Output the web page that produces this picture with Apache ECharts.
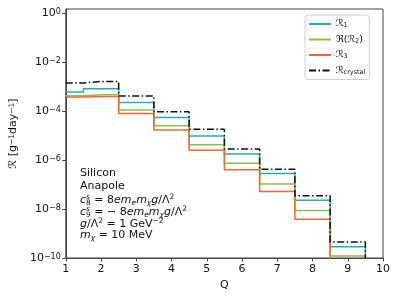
<!DOCTYPE html>
<html><head><meta charset="utf-8">
<script src="https://cdn.jsdelivr.net/npm/echarts@6/dist/echarts.min.js"></script>
<style>html,body{margin:0;padding:0;background:#fff}#c{width:399px;height:299px}</style>
</head><body><div id="c"></div>
<script>
const Q = [1, 2, 3, 4, 5, 6, 7, 8, 9, 10];
const R1 = [6.0e-4, 8.1e-4, 2.2e-4, 5.4e-5, 9.6e-6, 1.74e-6, 2.8e-7, 2.3e-8, 2.9e-10, 1e-12];
const R2 = [4.2e-4, 4.6e-4, 1.1e-4, 2.5e-5, 4.2e-6, 7.4e-7, 1.05e-7, 8.7e-9, 1.2e-10, 1e-12];
const R3 = [3.7e-4, 3.9e-4, 7.9e-5, 1.66e-5, 2.5e-6, 4.0e-7, 5.2e-8, 3.8e-9, 5e-11, 1e-12];
const RC = [1.4e-3, 1.6e-3, 4.1e-4, 9.3e-5, 1.78e-5, 2.8e-6, 4.2e-7, 3.5e-8, 4.5e-10, 1e-12];
const xTicks = [1, 2, 3, 4, 5, 6, 7, 8, 9, 10];
const yTickExps = [-10, -8, -6, -4, -2, 0];
const seriesNames = ['R1', 'R2', 'R3', 'RC'];
const legendLabels = {R1: 'ℛ{sb|1}', R2: 'ℜ(ℛ{sb|2})', R3: 'ℛ{sb|3}', RC: 'ℛ{sb|crystal}'};

const FONT = 'DejaVu Sans';
const chart = echarts.init(document.getElementById('c'), null, {renderer: 'canvas'});
const mk = (name, arr, color, type) => ({
  name: name, type: 'line', step: 'middle', symbol: 'none', clip: true,
  data: Q.map((q, i) => [q, arr[i]]),
  lineStyle: {color: color, width: 1.5, type: type || 'solid'},
  itemStyle: {color: color}
});
const annRich = {
  i: {fontFamily: FONT, fontSize: 11, fontStyle: 'italic', color: '#111', lineHeight: 14},
  n: {fontFamily: FONT, fontSize: 11, color: '#111', lineHeight: 14},
  sp: {fontFamily: FONT, fontSize: 7.5, color: '#111', verticalAlign: 'top', lineHeight: 10},
  spi: {fontFamily: FONT, fontSize: 7.5, fontStyle: 'italic', color: '#111', verticalAlign: 'top', lineHeight: 10, width: 0},
  sb: {fontFamily: FONT, fontSize: 7.5, color: '#111', verticalAlign: 'bottom', lineHeight: 9},
  sbi: {fontFamily: FONT, fontSize: 7.5, fontStyle: 'italic', color: '#111', verticalAlign: 'bottom', lineHeight: 9}
};
const annLines = [
  '{n|Silicon}',
  '{n|Anapole}',
  '{i|c}{spi|s}{sb|8}{n| = 8}{i|em}{sbi|e}{i|m}{sbi|χ}{i|g}{n|/Λ}{sp|2}',
  '{i|c}{spi|s}{sb|9}{n| = − 8}{i|em}{sbi|e}{i|m}{sbi|χ}{i|g}{n|/Λ}{sp|2}',
  '{i|g}{n|/Λ}{sp|2}{n| = 1 GeV}{sp|−2}',
  '{i|m}{sbi|χ}{n| = 10 MeV}'
];
const annY = [175, 187.5, 200, 212.5, 224.5, 236.5];
const graphics = annLines.map((t, k) => ({
  type: 'text', left: 80, top: annY[k] - 7,
  style: {text: t, rich: annRich, fontFamily: FONT, fontSize: 11, fill: '#111'}
}));

chart.setOption({
  animation: false,
  backgroundColor: '#fff',
  textStyle: {fontFamily: FONT},
  grid: {left: 62, right: 16, top: 9, bottom: 41, show: true, borderColor: '#444', borderWidth: 1, backgroundColor: 'transparent'},
  legend: {
    orient: 'vertical', left: 305, top: 15,
    data: seriesNames,
    itemWidth: 22, itemHeight: 11, itemGap: 5.5,
    padding: [4, 4, 4, 3],
    borderColor: '#d0d0d0', borderWidth: 1, borderRadius: 3, backgroundColor: '#fff',
    itemStyle: {opacity: 0, borderWidth: 0},
    formatter: n => legendLabels[n],
    textStyle: {
      fontFamily: FONT, fontSize: 9.5, color: '#111', padding: [0, 0, 0, 0],
      rich: {sb: {fontFamily: FONT, fontSize: 6.5, color: '#111', verticalAlign: 'bottom', lineHeight: 8}}
    }
  },
  xAxis: {
    type: 'value', min: 1, max: 10, interval: 1,
    name: 'Q', nameLocation: 'middle', nameGap: 21,
    nameTextStyle: {fontFamily: FONT, fontSize: 11, color: '#111'},
    axisLine: {show: true, lineStyle: {color: '#444', width: 1}},
    axisTick: {show: true, length: 3.5, lineStyle: {color: '#444'}},
    axisLabel: {fontFamily: FONT, fontSize: 11, color: '#111', margin: 6,
      formatter: v => xTicks.indexOf(Math.round(v)) >= 0 ? String(Math.round(v)) : ''},
    splitLine: {show: false}
  },
  yAxis: {
    type: 'log', logBase: 10, min: 1e-10, max: 1.45, interval: 2,
    name: 'ℛ [g{sp|−1}day{sp|−1}]', nameLocation: 'middle', nameGap: 36, nameRotate: 90,
    nameTextStyle: {fontFamily: FONT, fontSize: 11, color: '#111',
      rich: {sp: {fontFamily: FONT, fontSize: 7.5, color: '#111', verticalAlign: 'top', lineHeight: 10}}},
    axisLine: {show: true, lineStyle: {color: '#444', width: 1}},
    axisTick: {show: true, length: 3.5, lineStyle: {color: '#444'}},
    splitLine: {show: false},
    minorTick: {show: false},
    axisLabel: {
      fontFamily: FONT, fontSize: 11, color: '#111', margin: 5, showMaxLabel: false,
      formatter: v => {
        const e = Math.round(Math.log10(v));
        if (Math.abs(Math.log10(v) - e) > 0.01 || yTickExps.indexOf(e) < 0) return '';
        return '10{sp|' + (e < 0 ? '−' + (-e) : e) + '}';
      },
      rich: {sp: {fontFamily: FONT, fontSize: 8, color: '#111', verticalAlign: 'top', lineHeight: 10}}
    }
  },
  series: [
    mk('R1', R1, '#20b2aa'),
    mk('R2', R2, '#8cbf4f'),
    mk('R3', R3, '#f5652f'),
    mk('RC', RC, '#111', [7, 2.5, 1.5, 2.5])
  ],
  graphic: graphics
});
</script></body></html>
